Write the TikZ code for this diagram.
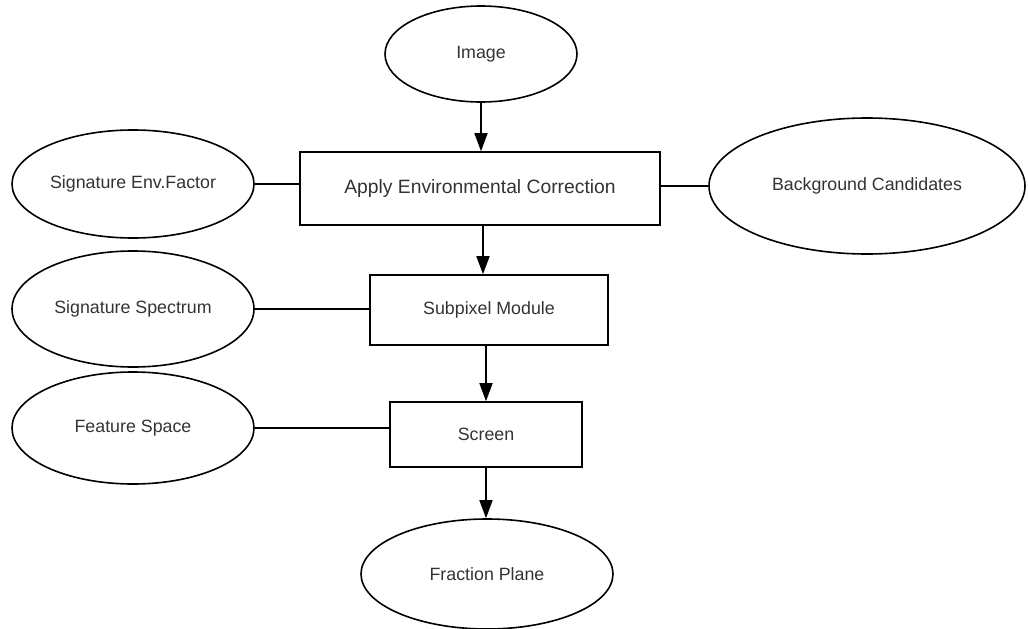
\documentclass[tikz,border=0pt]{standalone}
\usepackage{fontspec}
\setmainfont{Liberation Sans}
\usetikzlibrary{shapes.geometric,arrows.meta}

\begin{document}
\begin{tikzpicture}[x=1pt,y=-1pt,line width=1.6pt,
    every node/.style={font=\fontsize{17.8}{21}\selectfont,text=black!80},
    source/.style={draw,ellipse,inner sep=0pt},
    block/.style={draw,rectangle,inner sep=0pt},
    link/.style={draw},
    flow/.style={-{Triangle[width=13pt,length=18pt]}}]
  \useasboundingbox (0,0) rectangle (1028,629);
  \node[source,minimum width=192pt,minimum height=96pt] (image) at (481,54) {Image};
  \node[block,minimum width=360pt,minimum height=73pt,font=\fontsize{19.3}{23}\selectfont] (correct) at (480,188.5) {Apply Environmental Correction};
  \node[source,minimum width=316pt,minimum height=136pt] (candidates) at (867,186) {Background Candidates};
  \node[block,minimum width=238pt,minimum height=70pt] (subpixel) at (489,310) {Subpixel Module};
  \node[block,minimum width=192pt,minimum height=65pt] (screen) at (486,434.5) {Screen};
  \node[source,minimum width=252pt,minimum height=110pt] (fraction) at (487,574) {Fraction Plane};

  \foreach \name/\y/\h/\label/\target in {envfactor/184/108/Signature Env.Factor/correct,spectrum/309/116/Signature Spectrum/subpixel,feature/428/112/Feature Space/screen} {
    \node[source,minimum width=242pt,minimum height=\h pt] (\name) at (133,\y) {\label};
    \draw[link] (\name.east) -- (\name.east -| \target.west);
  }
  \draw[link] (candidates.west -| correct.east) -- (candidates.west);

  \draw[flow] (image.south) -- (image.south |- correct.north);
  \draw[flow] ([xshift=3pt]correct.south) -- ([xshift=3pt]correct.south |- subpixel.north);
  \draw[flow] (screen.north |- subpixel.south) -- (screen.north);
  \draw[flow] (screen.south) -- (screen.south |- fraction.north);
\end{tikzpicture}
\end{document}
